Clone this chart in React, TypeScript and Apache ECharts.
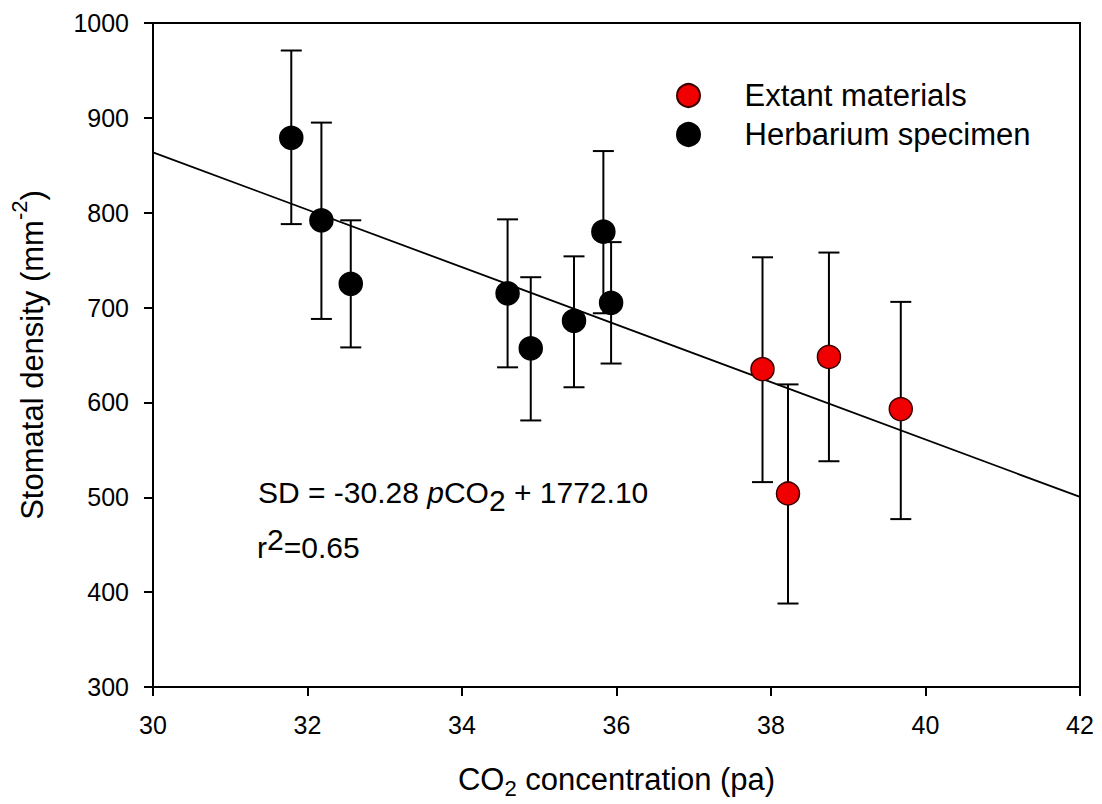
import React, { useEffect, useRef } from "react";
import * as echarts from "echarts";

const FONT = "'Liberation Sans', Arial, Helvetica, sans-serif";

// Herbarium specimen (black)
const herbariumX = [31.79, 32.18, 32.56, 34.59, 34.89, 35.45, 35.83, 35.93];
const herbariumY = [879, 792, 725, 715, 657, 686, 780, 705];
const herbariumHi = [971, 895, 792, 793, 732, 754, 865, 769];
const herbariumLo = [788, 688, 658, 637, 581, 616, 694, 641];

// Extant materials (red)
const extantX = [37.89, 38.22, 38.75, 39.68];
const extantY = [635, 504, 648, 593];
const extantHi = [753, 619, 758, 706];
const extantLo = [516, 388, 538, 477];

// Regression: SD = -30.28 pCO2 + 1772.10
const slope = -30.28;
const intercept = 1772.1;
const fitX = [30, 42];

const xTicks = { min: 30, max: 42, interval: 2 };
const yTicks = { min: 300, max: 1000, interval: 100 };

const legendNames = ["Extant materials", "Herbarium specimen"];

export default function App() {
  const ref = useRef<HTMLDivElement>(null);

  useEffect(() => {
    if (!ref.current) return;
    const chart = echarts.init(ref.current, null, { renderer: "svg" });

    const errData = [
      ...herbariumX.map((x, i) => [x, herbariumLo[i], herbariumHi[i]]),
      ...extantX.map((x, i) => [x, extantLo[i], extantHi[i]]),
    ];

    const axisCommon = {
      axisLine: { show: true, onZero: false, lineStyle: { color: "#000", width: 2 } },
      axisTick: { show: true, inside: false, length: 9, lineStyle: { color: "#000", width: 2 } },
      splitLine: { show: false },
    };

    const option: any = {
      animation: false,
      backgroundColor: "#fff",
      textStyle: { fontFamily: FONT, color: "#000" },
      grid: {
        left: 151,
        right: 22,
        top: 23,
        bottom: 115,
        show: true,
        borderColor: "#000",
        borderWidth: 2,
        backgroundColor: "transparent",
      },
      legend: {
        data: legendNames,
        orient: "vertical",
        left: 676,
        top: 80,
        padding: 0,
        itemGap: 8,
        itemWidth: 102,
        itemHeight: 23,
        icon: "circle",
        selectedMode: false,
        textStyle: { fontSize: 31, lineHeight: 30, color: "#000", fontFamily: FONT },
      },
      xAxis: {
        type: "value",
        ...xTicks,
        ...axisCommon,
        name: "CO{sub|2} concentration (pa)",
        nameLocation: "middle",
        nameGap: 74,
        nameTextStyle: {
          fontSize: 31,
          lineHeight: 36,
          color: "#000",
          fontFamily: FONT,
          rich: {
            sub: { fontSize: 22, lineHeight: 36, padding: [18, 0, 0, 0], color: "#000", fontFamily: FONT },
          },
        },
        axisLabel: { fontSize: 25, color: "#000", margin: 25, fontFamily: FONT, formatter: (v: number) => String(v) },
      },
      yAxis: {
        type: "value",
        ...yTicks,
        ...axisCommon,
        name: "Stomatal density (mm{sup|-2})",
        nameLocation: "middle",
        nameGap: 103,
        nameTextStyle: {
          fontSize: 31,
          lineHeight: 36,
          color: "#000",
          fontFamily: FONT,
          rich: {
            sup: { fontSize: 22, lineHeight: 36, padding: [0, 0, 26, 0], color: "#000", fontFamily: FONT },
          },
        },
        axisLabel: { fontSize: 25, color: "#000", margin: 24, fontFamily: FONT, formatter: (v: number) => String(v) },
      },
      graphic: [
        {
          type: "text",
          x: 258,
          y: 492,
          z: 10,
          style: {
            text: "{n|SD = -30.28 }{i|p}{n|CO}{s|2}{n| + 1772.10}",
            verticalAlign: "middle",
            align: "left",
            rich: {
              n: { fontSize: 30, lineHeight: 36, fontFamily: FONT, fill: "#000" },
              i: { fontSize: 30, lineHeight: 36, fontFamily: FONT, fontStyle: "italic", fill: "#000" },
              s: { fontSize: 30, lineHeight: 36, fontFamily: FONT, fill: "#000", padding: [16, 0, 0, 0] },
            },
          },
        },
        {
          type: "text",
          x: 257,
          y: 547,
          z: 10,
          style: {
            text: "{n|r}{s|2}{n|=0.65}",
            verticalAlign: "middle",
            align: "left",
            rich: {
              n: { fontSize: 30, lineHeight: 36, fontFamily: FONT, fill: "#000" },
              s: { fontSize: 30, lineHeight: 36, fontFamily: FONT, fill: "#000", padding: [0, 0, 16, 0] },
            },
          },
        },
      ],
      series: [
        {
          name: "errorbars",
          type: "custom",
          z: 2,
          silent: true,
          encode: { x: 0, y: [1, 2] },
          data: errData,
          renderItem: (params: any, api: any) => {
            const x = api.value(0);
            const lo = api.value(1);
            const hi = api.value(2);
            const top = api.coord([x, hi]);
            const bot = api.coord([x, lo]);
            const hw = 10.5;
            const st = { stroke: "#000", lineWidth: 2 };
            return {
              type: "group",
              children: [
                { type: "line", shape: { x1: top[0], y1: top[1], x2: bot[0], y2: bot[1] }, style: st },
                { type: "line", shape: { x1: top[0] - hw, y1: top[1], x2: top[0] + hw, y2: top[1] }, style: st },
                { type: "line", shape: { x1: bot[0] - hw, y1: bot[1], x2: bot[0] + hw, y2: bot[1] }, style: st },
              ],
            };
          },
        },
        {
          name: "fit",
          type: "line",
          z: 3,
          silent: true,
          symbol: "none",
          data: fitX.map((x) => [x, intercept + slope * x]),
          lineStyle: { color: "#000", width: 1.8 },
        },
        {
          name: legendNames[0],
          type: "scatter",
          z: 4,
          symbol: "circle",
          symbolSize: 23,
          data: extantX.map((x, i) => [x, extantY[i]]),
          itemStyle: { color: "#f00000", borderColor: "#3a0000", borderWidth: 1.5, opacity: 1 },
        },
        {
          name: legendNames[1],
          type: "scatter",
          z: 4,
          symbol: "circle",
          symbolSize: 23,
          data: herbariumX.map((x, i) => [x, herbariumY[i]]),
          itemStyle: { color: "#000", borderColor: "#000", borderWidth: 1.5, opacity: 1 },
        },
      ],
    };

    chart.setOption(option);
    return () => chart.dispose();
  }, []);

  return (
    <div
      ref={ref}
      style={{ position: "fixed", left: 0, top: 0, width: 1102, height: 804, background: "#fff" }}
    />
  );
}
